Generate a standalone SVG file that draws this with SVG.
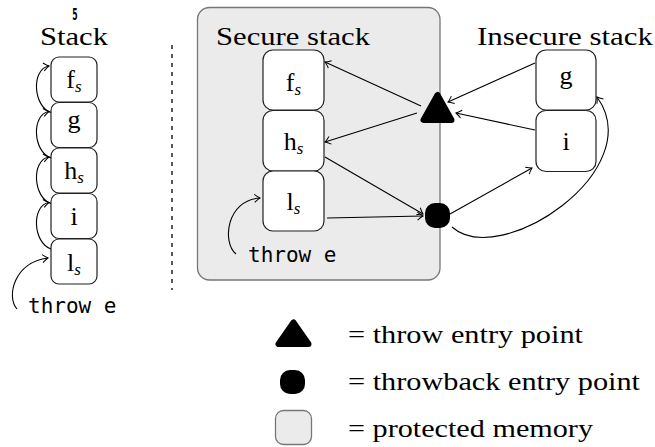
<svg xmlns="http://www.w3.org/2000/svg" width="655" height="447" viewBox="0 0 655 447">
<defs>
<marker id="arr" viewBox="-7 -5 8 10" refX="0" refY="0" markerWidth="8" markerHeight="10" markerUnits="userSpaceOnUse" orient="auto">
<path d="M-5.5,-4 Q-2,-1 0,0 Q-2,1 -5.5,4" fill="none" stroke="#000" stroke-width="1"/>
</marker>
<style>
.box{fill:#fff;stroke:#222;stroke-width:1.2}
.prot{fill:#ebebeb;stroke:#777;stroke-width:1.3}
.lbl{font-size:26px;fill:#000;text-anchor:middle}
.sub{font-style:italic;font-size:17px}
.title{font-size:26px;fill:#000}
.leg{font-size:25px;fill:#000}
.mono{font-family:"DejaVu Sans Mono",monospace;font-size:21px;fill:#000}
.c{fill:none;stroke:#000;stroke-width:1.1;marker-end:url(#arr)}
.tri{fill:#000;stroke:#000;stroke-width:6;stroke-linejoin:round}
</style>
</defs>
<rect width="655" height="447" fill="#fff"/>

<g id="protected-region">
<rect class="prot" x="197.5" y="7.5" width="242.5" height="272.5" rx="12"/>
</g>

<g id="titles" font-family="'Liberation Serif', 'Times New Roman', serif">
<text x="0" y="0" font-family="DejaVu Sans" font-weight="bold" font-size="11" text-anchor="middle" transform="translate(75 20) scale(0.7 1.4)">5</text>
<text class="title" x="40" y="45" textLength="68" lengthAdjust="spacingAndGlyphs">Stack</text>
<text class="title" x="216" y="45" textLength="154" lengthAdjust="spacingAndGlyphs">Secure stack</text>
<text class="title" x="477" y="45" textLength="176" lengthAdjust="spacingAndGlyphs">Insecure stack</text>
</g>

<line id="divider" x1="172" y1="45" x2="172" y2="290" stroke="#000" stroke-width="1.3" stroke-dasharray="4 5"/>

<g font-family="'Liberation Serif', 'Times New Roman', serif">
<g id="stack-fs"><rect class="box" x="51" y="57" width="46" height="45" rx="8"/><text class="lbl" x="74" y="88" font-family="Liberation Serif, serif">f<tspan class="sub" dy="4">s</tspan></text></g>
<g id="stack-g"><rect class="box" x="51" y="102.5" width="46" height="45" rx="8"/><text class="lbl" x="74" y="128" font-family="Liberation Serif, serif">g</text></g>
<g id="stack-hs"><rect class="box" x="51" y="148" width="46" height="45" rx="8"/><text class="lbl" x="74" y="179" font-family="Liberation Serif, serif">h<tspan class="sub" dy="4">s</tspan></text></g>
<g id="stack-i"><rect class="box" x="51" y="193.5" width="46" height="45" rx="8"/><text class="lbl" x="74" y="225" font-family="Liberation Serif, serif">i</text></g>
<g id="stack-ls"><rect class="box" x="51" y="239" width="46" height="45" rx="8"/><text class="lbl" x="74" y="271" font-family="Liberation Serif, serif">l<tspan class="sub" dy="4">s</tspan></text></g>

<g id="sec-fs"><rect class="box" x="263" y="50" width="61" height="60" rx="10"/><text class="lbl" x="293.5" y="91" font-family="Liberation Serif, serif">f<tspan class="sub" dy="4">s</tspan></text></g>
<g id="sec-hs"><rect class="box" x="263" y="110.5" width="61" height="60.5" rx="10"/><text class="lbl" x="293.5" y="150" font-family="Liberation Serif, serif">h<tspan class="sub" dy="4">s</tspan></text></g>
<g id="sec-ls"><rect class="box" x="263" y="171" width="61" height="60" rx="10"/><text class="lbl" x="293.5" y="210" font-family="Liberation Serif, serif">l<tspan class="sub" dy="4">s</tspan></text></g>

<g id="ins-g"><rect class="box" x="536" y="50" width="60" height="60" rx="10"/><text class="lbl" x="566" y="84" font-family="Liberation Serif, serif">g</text></g>
<g id="ins-i"><rect class="box" x="536" y="110.5" width="60" height="61" rx="10"/><text class="lbl" x="566" y="150" font-family="Liberation Serif, serif">i</text></g>
</g>

<g id="stack-throw"><text class="mono" x="28" y="313">throw e</text></g>
<g id="sec-throw"><text class="mono" x="248" y="262">throw e</text></g>

<g id="throw-entry"><polygon class="tri" points="437.5,95 423.5,120 451.5,120"/></g>
<g id="throwback-entry"><rect x="425" y="203" width="25" height="25" rx="10" fill="#000"/></g>

<g id="connectors">
<path class="c" d="M51,112.5 C33,106.5 31,69 49,66"/>
<path class="c" d="M51,158 C33,152 31,114.5 49,111.5"/>
<path class="c" d="M51,203.5 C33,197.5 31,160 49,157"/>
<path class="c" d="M51,249 C33,243 31,205.5 49,202.5"/>
<path class="c" d="M17,309 C6,297 14,262 48,258"/>
<path class="c" d="M236,254 C222,243 226,200 260,198"/>
<path class="c" d="M421,106 L325,62"/>
<path class="c" d="M417,113 L325,142"/>
<path class="c" d="M535,63 L448,102"/>
<path class="c" d="M535,130 L456,113"/>
<path class="c" d="M325,157 L423,214"/>
<path class="c" d="M327,218 L423,216"/>
<path class="c" d="M450,214 L532,168"/>
<path class="c" d="M452,227 C500,270 650,170 597,97"/>
</g>

<g id="legend" font-family="'Liberation Serif', 'Times New Roman', serif">
<polygon class="tri" points="293.5,322.5 278.5,344 308.5,344"/>
<text class="leg" x="348" y="343" textLength="235" lengthAdjust="spacingAndGlyphs">= throw entry point</text>
<rect x="280" y="370" width="25" height="24" rx="10" fill="#000"/>
<text class="leg" x="348" y="390" textLength="292" lengthAdjust="spacingAndGlyphs">= throwback entry point</text>
<rect class="prot" x="275.5" y="410.5" width="36" height="34" rx="8"/>
<text class="leg" x="348" y="437" textLength="245" lengthAdjust="spacingAndGlyphs">= protected memory</text>
</g>
</svg>
